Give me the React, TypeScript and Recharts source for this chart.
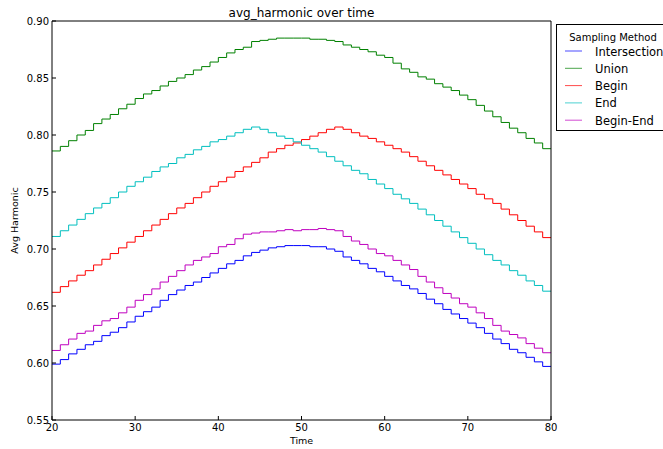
import { LineChart, Line, XAxis, YAxis } from "recharts";

const TIME = [
  20, 21, 22, 23, 24, 25, 26, 27, 28, 29, 30, 31, 32, 33, 34, 35, 36, 37, 38, 39, 40,
  41, 42, 43, 44, 45, 46, 47, 48, 49, 50, 51, 52, 53, 54, 55, 56, 57, 58, 59, 60,
  61, 62, 63, 64, 65, 66, 67, 68, 69, 70, 71, 72, 73, 74, 75, 76, 77, 78, 79, 80,
];

const INTERSECTION = [
  0.599, 0.603, 0.608, 0.612, 0.616, 0.619, 0.624, 0.627, 0.631, 0.636, 0.641,
  0.645, 0.649, 0.655, 0.66, 0.664, 0.668, 0.671, 0.675, 0.679, 0.683,
  0.687, 0.69, 0.694, 0.697, 0.699, 0.701, 0.702, 0.703, 0.703, 0.703,
  0.702, 0.702, 0.7, 0.698, 0.693, 0.69, 0.687, 0.683, 0.68, 0.676,
  0.672, 0.668, 0.665, 0.661, 0.656, 0.652, 0.647, 0.643, 0.639, 0.635,
  0.631, 0.626, 0.621, 0.617, 0.612, 0.609, 0.605, 0.601, 0.597, 0.597,
];

const UNION = [
  0.786, 0.79, 0.795, 0.8, 0.804, 0.81, 0.814, 0.818, 0.823, 0.827, 0.832,
  0.836, 0.839, 0.843, 0.847, 0.85, 0.853, 0.857, 0.86, 0.864, 0.868,
  0.872, 0.875, 0.877, 0.882, 0.883, 0.884, 0.885, 0.885, 0.885, 0.885,
  0.884, 0.884, 0.883, 0.882, 0.879, 0.877, 0.875, 0.873, 0.87, 0.868,
  0.863, 0.858, 0.855, 0.851, 0.849, 0.845, 0.842, 0.839, 0.835, 0.831,
  0.826, 0.821, 0.816, 0.811, 0.806, 0.802, 0.797, 0.793, 0.788, 0.788,
];

const BEGIN = [
  0.662, 0.667, 0.672, 0.677, 0.681, 0.686, 0.691, 0.696, 0.701, 0.706, 0.711,
  0.716, 0.721, 0.726, 0.731, 0.736, 0.74, 0.745, 0.75, 0.755, 0.759,
  0.763, 0.768, 0.772, 0.776, 0.78, 0.785, 0.788, 0.791, 0.793, 0.796,
  0.799, 0.802, 0.805, 0.807, 0.805, 0.802, 0.799, 0.797, 0.794, 0.791,
  0.788, 0.785, 0.781, 0.777, 0.773, 0.769, 0.765, 0.761, 0.757, 0.753,
  0.748, 0.744, 0.74, 0.735, 0.73, 0.725, 0.72, 0.715, 0.71, 0.71,
];

const END = [
  0.711, 0.716, 0.721, 0.726, 0.731, 0.736, 0.74, 0.745, 0.75, 0.755, 0.759,
  0.763, 0.768, 0.772, 0.775, 0.78, 0.783, 0.787, 0.79, 0.794, 0.796,
  0.799, 0.802, 0.805, 0.807, 0.805, 0.802, 0.799, 0.797, 0.794, 0.791,
  0.788, 0.785, 0.781, 0.777, 0.773, 0.769, 0.766, 0.761, 0.757, 0.753,
  0.748, 0.744, 0.74, 0.735, 0.73, 0.725, 0.72, 0.715, 0.71, 0.705,
  0.7, 0.695, 0.69, 0.686, 0.681, 0.677, 0.672, 0.668, 0.663, 0.663,
];

const BEGIN_END = [
  0.611, 0.616, 0.621, 0.626, 0.628, 0.633, 0.637, 0.639, 0.644, 0.649, 0.655,
  0.66, 0.665, 0.671, 0.676, 0.681, 0.686, 0.69, 0.693, 0.696, 0.702,
  0.704, 0.709, 0.713, 0.714, 0.715, 0.715, 0.716, 0.717, 0.716, 0.717,
  0.717, 0.718, 0.717, 0.716, 0.711, 0.707, 0.704, 0.7, 0.696, 0.694,
  0.69, 0.686, 0.682, 0.676, 0.671, 0.666, 0.661, 0.657, 0.652, 0.649,
  0.644, 0.639, 0.633, 0.628, 0.625, 0.622, 0.617, 0.613, 0.609, 0.609,
];

const X_TICKS = [20, 30, 40, 50, 60, 70, 80];
const Y_TICKS = [0.55, 0.6, 0.65, 0.7, 0.75, 0.8, 0.85, 0.9];

const SERIES = [
  { name: "Intersection", values: INTERSECTION, color: "#0000ff" },
  { name: "Union", values: UNION, color: "#008000" },
  { name: "Begin", values: BEGIN, color: "#ff0000" },
  { name: "End", values: END, color: "#00bfbf" },
  { name: "Begin-End", values: BEGIN_END, color: "#bf00bf" },
];

const FONT = "'DejaVu Sans', sans-serif";

const data = TIME.map((t, i) => {
  const row: Record<string, number> = { time: t };
  SERIES.forEach((s) => {
    row[s.name] = s.values[i];
  });
  return row;
});

const tickStyle = { fill: "#000", fontSize: 10, fontFamily: FONT };

// legend sits outside the axes, partly cut off by the figure edge
const LegendBox = () => (
  <svg
    width={110}
    height={108}
    style={{ position: "absolute", left: 556, top: 24 }}
  >
    <rect x={0.5} y={0.5} width={120} height={106} fill="#fff" stroke="#000" />
    <text x={57} y={17} textAnchor="middle" fontSize={10} fontFamily={FONT}>
      Sampling Method
    </text>
    {SERIES.map((s, i) => {
      const cy = 27 + i * 17.3;
      return (
        <g key={s.name}>
          <line x1={9} x2={26} y1={cy} y2={cy} stroke={s.color} strokeWidth={1} opacity={0.7} />
          <text x={39} y={cy + 4.5} fontSize={11.5} fontFamily={FONT}>
            {s.name}
          </text>
        </g>
      );
    })}
  </svg>
);

export default function App() {
  return (
    <div
      style={{
        position: "fixed",
        left: 0,
        top: 0,
        width: 663,
        height: 449,
        overflow: "hidden",
        background: "#fff",
      }}
    >
      <div
        style={{
          position: "absolute",
          left: 52,
          width: 499,
          top: 7,
          textAlign: "center",
          fontSize: 12,
          lineHeight: "12px",
          fontFamily: FONT,
        }}
      >
        avg_harmonic over time
      </div>
      <LineChart
        width={663}
        height={449}
        data={data}
        margin={{ top: 20, right: 111, left: 0, bottom: 0 }}
      >
        <XAxis
          dataKey="time"
          type="number"
          domain={[20, 80]}
          ticks={X_TICKS}
          height={29}
          tickSize={-4}
          tickMargin={8}
          stroke="#000"
          tick={tickStyle}
          label={{
            value: "Time",
            position: "insideBottom",
            offset: 5.5,
            fill: "#000",
            fontSize: 9.5,
            fontFamily: FONT,
          }}
        />
        <XAxis
          xAxisId="top"
          orientation="top"
          dataKey="time"
          type="number"
          domain={[20, 80]}
          ticks={X_TICKS}
          height={1}
          tickSize={-4}
          tick={false}
          stroke="#000"
        />
        <YAxis
          type="number"
          domain={[0.55, 0.9]}
          ticks={Y_TICKS}
          width={52}
          tickSize={-4}
          tickMargin={7}
          stroke="#000"
          tick={tickStyle}
          tickFormatter={(v: number) => v.toFixed(2)}
          label={{
            value: "Avg Harmonic",
            angle: -90,
            position: "insideLeft",
            offset: 15,
            fill: "#000",
            fontSize: 9.5,
            fontFamily: FONT,
            style: { textAnchor: "middle" },
          }}
        />
        <YAxis
          yAxisId="right"
          orientation="right"
          type="number"
          domain={[0.55, 0.9]}
          ticks={Y_TICKS}
          width={1}
          tickSize={-4}
          tick={false}
          stroke="#000"
        />
        {SERIES.map((s) => (
          <Line
            key={s.name}
            dataKey={s.name}
            type="stepAfter"
            stroke={s.color}
            strokeWidth={1}
            dot={false}
            activeDot={false}
            isAnimationActive={false}
          />
        ))}
      </LineChart>
      <LegendBox />
    </div>
  );
}
